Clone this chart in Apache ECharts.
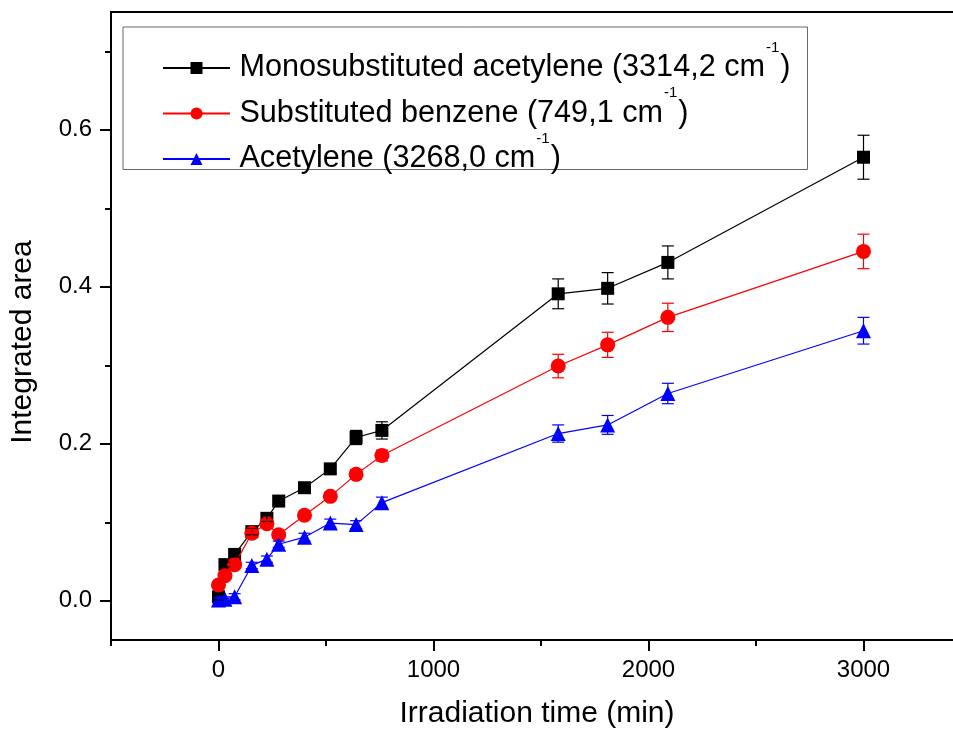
<!DOCTYPE html>
<html>
<head>
<meta charset="utf-8">
<script src="https://cdn.jsdelivr.net/npm/echarts@6/dist/echarts.min.js"></script>
<style>
  html, body { margin: 0; padding: 0; background: #fff; }
  #chart { width: 953px; height: 732px; }
</style>
</head>
<body>
<div id="chart"></div>
<script>
// Irradiation times (min)
const times = [0, 30, 75, 155, 225, 280, 400, 520, 640, 760, 1580, 1810, 2090, 3000];

// Integrated band areas and their uncertainties
const monoAcetylene = [0.005, 0.046, 0.059, 0.088, 0.105, 0.127, 0.144, 0.168, 0.208, 0.217, 0.391, 0.398, 0.431, 0.565];
const monoAcetyleneErr = [0.004, 0.003, 0.003, 0.004, 0.004, 0.004, 0.004, 0.005, 0.009, 0.011, 0.019, 0.020, 0.021, 0.028];

const subBenzene = [0.020, 0.032, 0.046, 0.086, 0.098, 0.084, 0.109, 0.133, 0.161, 0.185, 0.299, 0.326, 0.361, 0.445];
const subBenzeneErr = [0.003, 0.003, 0.003, 0.005, 0.005, 0.004, 0.004, 0.005, 0.006, 0.007, 0.015, 0.016, 0.018, 0.022];

const acetylene = [0.001, 0.002, 0.005, 0.045, 0.053, 0.072, 0.081, 0.099, 0.097, 0.125, 0.213, 0.224, 0.264, 0.344];
const acetyleneErr = [0.003, 0.003, 0.004, 0.004, 0.004, 0.004, 0.005, 0.005, 0.005, 0.007, 0.011, 0.012, 0.013, 0.017];

const seriesNames = [
  'Monosubstituted acetylene (3314,2 cm-1)',
  'Substituted benzene (749,1 cm-1)',
  'Acetylene (3268,0 cm-1)'
];

// Axis ticks
const xMajor = [0, 1000, 2000, 3000];
const xMinor = [-500, 500, 1500, 2500, 3500];
const yMajor = [0, 0.2, 0.4, 0.6];
const yMinor = [0.1, 0.3, 0.5, 0.7];

const FONT = '"Liberation Sans", Arial, sans-serif';
const X_MIN = -500, X_MAX = 3500, Y_MIN = -0.05, Y_MAX = 0.75;

function pairs(values) {
  return times.map((t, i) => [t, values[i]]);
}

function errorBars(values, errs, color) {
  return {
    type: 'custom',
    xAxisIndex: 0,
    yAxisIndex: 0,
    z: 5,
    silent: true,
    encode: { x: 0, y: [1, 2] },
    data: times.map((t, i) => [t, values[i] - errs[i], values[i] + errs[i]]),
    renderItem: function (params, api) {
      const x = api.value(0);
      const lo = api.coord([x, api.value(1)]);
      const hi = api.coord([x, api.value(2)]);
      const half = 6;
      const style = { stroke: color, lineWidth: 1.2 };
      return {
        type: 'group',
        children: [
          { type: 'line', shape: { x1: lo[0], y1: lo[1], x2: hi[0], y2: hi[1] }, style: style },
          { type: 'line', shape: { x1: lo[0] - half, y1: lo[1], x2: lo[0] + half, y2: lo[1] }, style: style },
          { type: 'line', shape: { x1: hi[0] - half, y1: hi[1], x2: hi[0] + half, y2: hi[1] }, style: style }
        ]
      };
    }
  };
}

function lineSeries(name, values, color, symbol, size, z) {
  return {
    type: 'line',
    name: name,
    xAxisIndex: 0,
    yAxisIndex: 0,
    z: z,
    data: pairs(values),
    symbol: symbol,
    symbolSize: size,
    showSymbol: true,
    itemStyle: { color: color, opacity: 1 },
    lineStyle: { color: color, width: 1.2 },
    emphasis: { disabled: true }
  };
}

const axisLineStyle = { color: '#000', width: 2 };
const tickStyle = { color: '#000', width: 2 };

const chart = echarts.init(document.getElementById('chart'), null, { renderer: 'canvas' });

chart.setOption({
  animation: false,
  backgroundColor: '#fff',
  grid: { left: 111, top: 12, width: 860, height: 628, outerBoundsMode: 'none' },
  legend: {
    data: seriesNames,
    orient: 'vertical',
    left: 123,
    top: 27,
    padding: [13, 17, -5, 39],
    itemWidth: 67,
    itemHeight: 15,
    itemGap: 2,
    borderColor: '#666',
    borderWidth: 1,
    selectedMode: false,
    formatter: function (name) {
      const base = name.replace(' cm-1)', ' cm');
      return '{g| }{t|' + base + '}{sup|-1}{t|)}';
    },
    textStyle: {
      color: '#000',
      fontFamily: FONT,
      fontSize: 30,
      rich: {
        g: { fontSize: 16, lineHeight: 34, fontFamily: FONT },
        t: { fontSize: 30.6, lineHeight: 34, color: '#000', fontFamily: FONT },
        sup: { fontSize: 15, lineHeight: 15, color: '#000', fontFamily: FONT, verticalAlign: 'top', padding: [-11, 1, 0, 1] }
      }
    }
  },
  xAxis: [
    {
      type: 'value', position: 'bottom', min: X_MIN, max: X_MAX,
      axisLine: { show: true, onZero: false, lineStyle: axisLineStyle },
      axisTick: { show: true, inside: false, length: 11, customValues: xMajor, lineStyle: tickStyle },
      axisLabel: { customValues: xMajor, fontSize: 24, color: '#000', fontFamily: FONT, margin: 18,
        formatter: function (v) { return String(v); } },
      splitLine: { show: false },
      name: 'Irradiation time (min)',
      nameLocation: 'middle',
      nameGap: 59,
      nameTextStyle: { fontSize: 30, color: '#000', fontFamily: FONT, padding: [0, 8, 0, 0] }
    },
    {
      type: 'value', position: 'bottom', min: X_MIN, max: X_MAX,
      axisLine: { show: false, onZero: false },
      axisTick: { show: true, inside: false, length: 6, customValues: xMinor, lineStyle: tickStyle },
      axisLabel: { show: false },
      splitLine: { show: false }
    },
    {
      type: 'value', position: 'top', min: X_MIN, max: X_MAX,
      axisLine: { show: true, onZero: false, lineStyle: axisLineStyle },
      axisTick: { show: false },
      axisLabel: { show: false },
      splitLine: { show: false }
    }
  ],
  yAxis: [
    {
      type: 'value', position: 'left', min: Y_MIN, max: Y_MAX,
      axisLine: { show: true, onZero: false, lineStyle: axisLineStyle },
      axisTick: { show: true, inside: false, length: 11, customValues: yMajor, lineStyle: tickStyle },
      axisLabel: { customValues: yMajor, fontSize: 24, color: '#000', fontFamily: FONT, margin: 19,
        formatter: function (v) { return v.toFixed(1); } },
      splitLine: { show: false },
      name: 'Integrated area',
      nameLocation: 'middle',
      nameGap: 73,
      nameTextStyle: { fontSize: 30, color: '#000', fontFamily: FONT, padding: [0, 32, 0, 0] }
    },
    {
      type: 'value', position: 'left', min: Y_MIN, max: Y_MAX,
      axisLine: { show: false, onZero: false },
      axisTick: { show: true, inside: false, length: 6, customValues: yMinor, lineStyle: tickStyle },
      axisLabel: { show: false },
      splitLine: { show: false }
    }
  ],
  series: [
    lineSeries(seriesNames[0], monoAcetylene, '#000000', 'rect', 13, 2),
    lineSeries(seriesNames[1], subBenzene, '#ff0000', 'circle', 15, 3),
    lineSeries(seriesNames[2], acetylene, '#0000ff', 'triangle', 15, 4),
    errorBars(monoAcetylene, monoAcetyleneErr, '#000000'),
    errorBars(subBenzene, subBenzeneErr, '#ff0000'),
    errorBars(acetylene, acetyleneErr, '#0000ff')
  ]
});
</script>
</body>
</html>
